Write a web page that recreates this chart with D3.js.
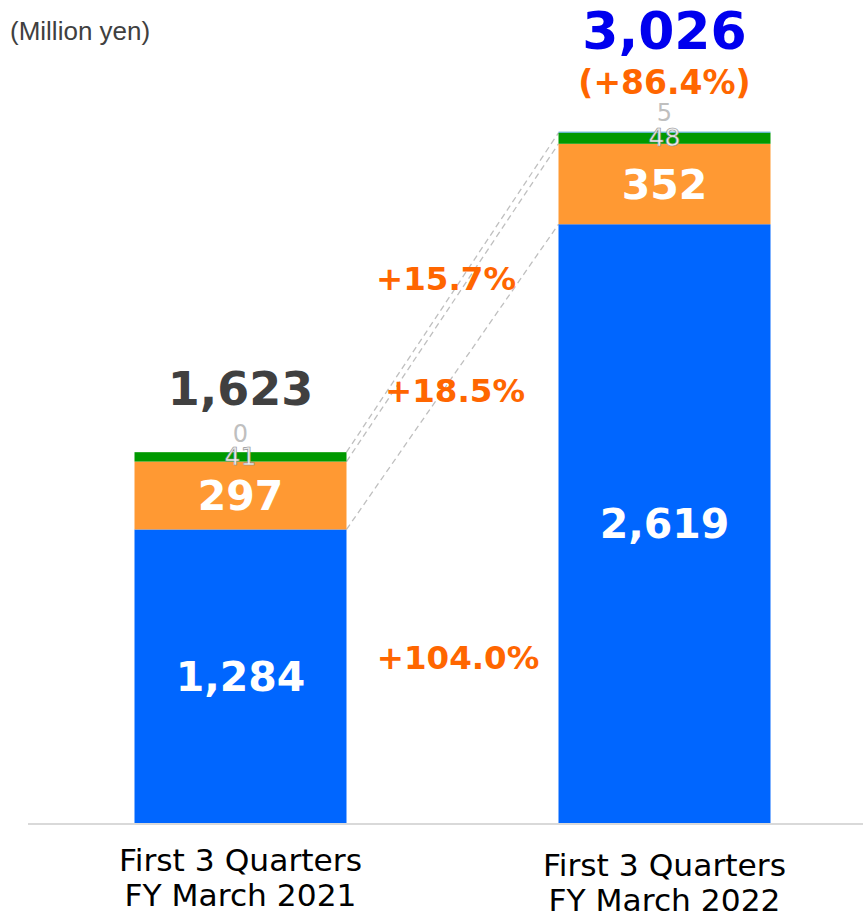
<!DOCTYPE html>
<html>
<head>
<meta charset="utf-8">
<script src="https://cdn.jsdelivr.net/npm/d3@7"></script>
<style>
  body { margin: 0; background: #fff; }
</style>
</head>
<body>
<div id="chart"></div>
<script>
// data
const categories = ["First 3 Quarters\nFY March 2021", "First 3 Quarters\nFY March 2022"];
const seriesNames = ["A", "B", "C", "D"];
const seriesColors = ["#0066ff", "#ff9933", "#009900", "#4bacc6"];
const values = [
    [1284, 297, 41, 0],
    [2619, 352, 48, 5]
];
const totals = ["1,623", "3,026"];
const growthTotal = "(+86.4%)";
const growthBySeries = ["+104.0%", "+18.5%", "+15.7%"];

const width = 863, height = 917;
const baseY = 823;

const svg = d3.select("#chart").append("svg")
    .attr("width", width)
    .attr("height", height);

const x = d3.scaleBand()
    .domain(categories)
    .range([28.5, 876.5])
    .paddingInner(0.5)
    .paddingOuter(0.25);

const y = d3.scaleLinear()
    .domain([0, 3026])
    .range([baseY, 131.2]);

// stack rows
const rows = values.map((v, i) => {
    const r = { cat: categories[i] };
    seriesNames.forEach((s, j) => r[s] = v[j]);
    return r;
});
const stacked = d3.stack().keys(seriesNames)(rows);

// dashed connectors between bars at tops of segments
[0, 1, 2].forEach(j => {
    svg.append("line")
        .attr("x1", x(categories[0]) + x.bandwidth())
        .attr("y1", y(stacked[j][0][1]))
        .attr("x2", x(categories[1]))
        .attr("y2", y(stacked[j][1][1]))
        .attr("stroke", "#bfbfbf")
        .attr("stroke-width", 1.3)
        .attr("stroke-dasharray", "6,4");
});

// bars
stacked.forEach((layer, j) => {
    svg.append("g").selectAll("rect")
        .data(layer)
        .join("rect")
        .attr("x", d => x(d.data.cat))
        .attr("y", d => y(d[1]))
        .attr("width", x.bandwidth())
        .attr("height", d => y(d[0]) - y(d[1]))
        .attr("fill", seriesColors[j]);
});

// axis line
svg.append("line")
    .attr("x1", 28).attr("x2", width)
    .attr("y1", baseY + 1).attr("y2", baseY + 1)
    .attr("stroke", "#d9d9d9")
    .attr("stroke-width", 2);

// big segment labels
const bold = "'DejaVu Sans', Verdana, sans-serif";
[0, 1].forEach(j => {
    stacked[j].forEach(d => {
        svg.append("text")
            .attr("x", x(d.data.cat) + x.bandwidth() / 2)
            .attr("y", (y(d[0]) + y(d[1])) / 2)
            .attr("dy", "0.36em")
            .attr("text-anchor", "middle")
            .attr("font-family", bold)
            .attr("font-weight", "bold")
            .attr("font-size", 41)
            .attr("fill", "#fff")
            .text(d3.format(",")(d[1] - d[0]));
    });
});

// small segment labels (green, light blue)
values.forEach((v, i) => {
    const cx = x(categories[i]) + x.bandwidth() / 2;
    svg.append("text")
        .attr("x", cx)
        .attr("y", y(d3.sum(v.slice(0, 3))) + 4)
        .attr("dy", "0.36em")
        .attr("text-anchor", "middle")
        .attr("font-family", bold)
        .attr("font-size", 25)
        .attr("fill", "#eeeeee")
        .attr("stroke", "#8c8c8c")
        .attr("stroke-width", 0.6)
        .text(v[2]);
    svg.append("text")
        .attr("x", cx)
        .attr("y", y(d3.sum(v)) - 19)
        .attr("dy", "0.36em")
        .attr("text-anchor", "middle")
        .attr("font-family", bold)
        .attr("font-size", 24)
        .attr("fill", "#bfbfbf")
        .text(v[3]);
});

// totals
svg.append("text")
    .attr("x", x(categories[0]) + x.bandwidth() / 2)
    .attr("y", 405)
    .attr("text-anchor", "middle")
    .attr("font-family", bold)
    .attr("font-weight", "bold")
    .attr("font-size", 46)
    .attr("fill", "#404040")
    .text(totals[0]);

svg.append("text")
    .attr("x", x(categories[1]) + x.bandwidth() / 2)
    .attr("y", 49)
    .attr("text-anchor", "middle")
    .attr("font-family", bold)
    .attr("font-weight", "bold")
    .attr("font-size", 52)
    .attr("fill", "#0000ee")
    .text(totals[1]);

svg.append("text")
    .attr("x", x(categories[1]) + x.bandwidth() / 2)
    .attr("y", 94)
    .attr("text-anchor", "middle")
    .attr("font-family", bold)
    .attr("font-weight", "bold")
    .attr("font-size", 33)
    .attr("fill", "#ff6600")
    .text(growthTotal);

// growth labels between bars
const growthPos = [[458, 657], [455, 390], [446, 278]];
growthBySeries.forEach((g, j) => {
    svg.append("text")
        .attr("x", growthPos[j][0])
        .attr("y", growthPos[j][1])
        .attr("dy", "0.36em")
        .attr("text-anchor", "middle")
        .attr("font-family", bold)
        .attr("font-weight", "bold")
        .attr("font-size", 32.5)
        .attr("fill", "#ff6600")
        .text(g);
});

// unit
svg.append("text")
    .attr("x", 10)
    .attr("y", 40)
    .attr("font-family", "'Liberation Sans', Arial, sans-serif")
    .attr("font-size", 26)
    .attr("fill", "#404040")
    .text("(Million yen)");

// category labels
categories.forEach((c, i) => {
    const t = svg.append("text")
        .attr("x", x(c) + x.bandwidth() / 2)
        .attr("y", 871 + i * 5)
        .attr("text-anchor", "middle")
        .attr("font-family", "'DejaVu Sans', sans-serif")
        .attr("font-size", 30)
        .attr("fill", "#000");
    c.split("\n").forEach((line, k) => {
        t.append("tspan")
            .attr("x", x(c) + x.bandwidth() / 2)
            .attr("dy", k === 0 ? 0 : 35)
            .attr("textLength", k === 0 ? 243 : 232)
            .attr("lengthAdjust", "spacingAndGlyphs")
            .text(line);
    });
});
</script>
</body>
</html>
